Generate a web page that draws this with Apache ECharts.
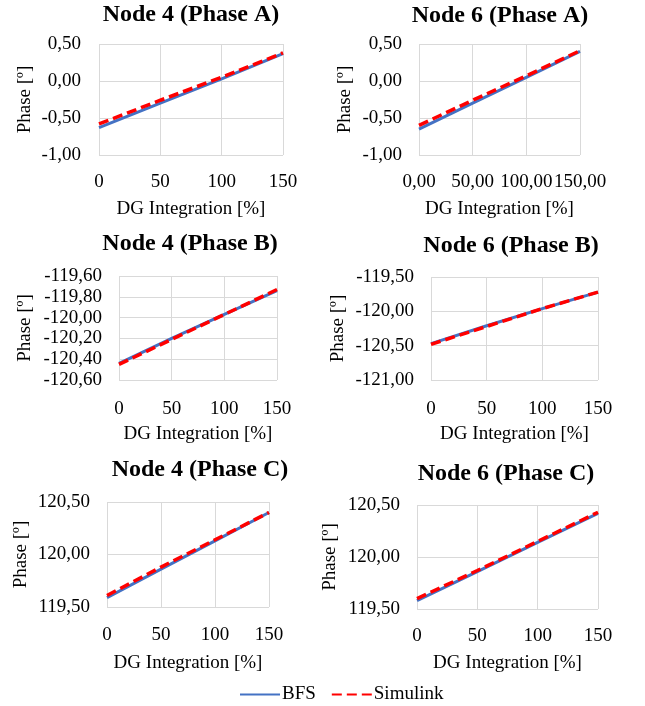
<!DOCTYPE html>
<html>
<head>
<meta charset="utf-8">
<script src="https://cdn.jsdelivr.net/npm/echarts@6/dist/echarts.min.js"></script>
<style>
html,body{margin:0;padding:0;background:#fff;}
#c{width:645px;height:706px;}
</style>
</head>
<body>
<div id="c"></div>
<script>
// DG integration [%]
var dgPct = [0, 50, 100, 150];

// Panel titles
var titles = ['Node 4 (Phase A)', 'Node 6 (Phase A)', 'Node 4 (Phase B)', 'Node 6 (Phase B)', 'Node 4 (Phase C)', 'Node 6 (Phase C)'];
var seriesNames = ['BFS', 'Simulink'];

// Phase [º] values
var n4A_bfs = [-0.63, -0.30, 0.03, 0.37];
var n4A_sim = [-0.58, -0.26, 0.05, 0.38];
var n6A_bfs = [-0.65, -0.30, 0.05, 0.40];
var n6A_sim = [-0.60, -0.26, 0.07, 0.41];
var n4B_bfs = [-120.44, -120.20, -119.97, -119.74];
var n4B_sim = [-120.45, -120.21, -119.97, -119.73];
var n6B_bfs = [-120.47, -120.21, -119.96, -119.72];
var n6B_sim = [-120.48, -120.22, -119.96, -119.72];
var n4C_bfs = [119.59, 119.86, 120.13, 120.40];
var n4C_sim = [119.61, 119.88, 120.14, 120.40];
var n6C_bfs = [119.58, 119.86, 120.14, 120.42];
var n6C_sim = [119.60, 119.87, 120.15, 120.43];

// Axis ranges (tick values)
var yMin = [-1.0, -1.0, -120.6, -121.0, 119.5, 119.5];
var yMax = [0.5, 0.5, -119.6, -119.5, 120.5, 120.5];
var yStep = [0.5, 0.5, 0.2, 0.5, 0.5, 0.5];
var xMin = 0, xMax = 150, xStep = 50;

var bfsData = [n4A_bfs, n6A_bfs, n4B_bfs, n6B_bfs, n4C_bfs, n6C_bfs];
var simData = [n4A_sim, n6A_sim, n4B_sim, n6B_sim, n4C_sim, n6C_sim];

// layout
var grids = [
  {left: 99, top: 44, width: 184, height: 111},
  {left: 419, top: 44, width: 161, height: 111},
  {left: 119, top: 276, width: 158, height: 104},
  {left: 431, top: 277, width: 167, height: 103},
  {left: 107, top: 502, width: 162, height: 105},
  {left: 417, top: 505, width: 181, height: 104}
];
var titlePos = [[191, 3], [500, 4], [190, 232], [511, 234], [200, 458], [506, 462]];
var yNameGap = [64, 64, 84, 83, 76, 77];
var yLabelMargin = [18, 17, 17, 17, 17, 17];
var xLabelMargin = [18, 18, 20, 20, 19, 18];
var xNameGap = [45, 45, 45, 45, 47, 45];

var FONT = 'Liberation Serif';
function fmt2(v){ return v.toFixed(2).replace('.', ','); }

var option = {
  backgroundColor: '#fff',
  animation: false,
  title: titles.map(function(t, i){
    return {text: t, left: titlePos[i][0], top: titlePos[i][1], textAlign: 'center', padding: 0,
      textStyle: {fontFamily: FONT, fontWeight: 'bold', fontSize: 24, color: '#000'}};
  }),
  legend: {
    data: seriesNames, left: 234, top: 680, itemWidth: 40, itemHeight: 14, itemGap: 15,
    itemStyle: {opacity: 0},
    textStyle: {fontFamily: FONT, fontSize: 19, color: '#000', padding: [0,0,0,-3]}
  },
  grid: grids.map(function(g){ return Object.assign({containLabel: false}, g); }),
  xAxis: grids.map(function(g, i){
    return {
      type: 'value', gridIndex: i, min: xMin, max: xMax, interval: xStep,
      name: 'DG Integration [%]', nameLocation: 'middle', nameGap: xNameGap[i],
      nameTextStyle: {fontFamily: FONT, fontSize: 19, color: '#000'},
      axisLine: {show: false}, axisTick: {show: false},
      axisLabel: {fontFamily: FONT, fontSize: 19, color: '#000', margin: xLabelMargin[i],
        formatter: i === 1 ? function(v){ return fmt2(v); } : function(v){ return String(v); }},
      splitLine: {show: true, lineStyle: {color: '#d9d9d9', width: 1}}
    };
  }),
  yAxis: grids.map(function(g, i){
    return {
      type: 'value', gridIndex: i, min: yMin[i], max: yMax[i], interval: yStep[i],
      name: 'Phase [º]', nameLocation: 'middle', nameGap: yNameGap[i],
      nameTextStyle: {fontFamily: FONT, fontSize: 19, color: '#000'},
      axisLine: {show: false}, axisTick: {show: false},
      axisLabel: {fontFamily: FONT, fontSize: 19, color: '#000', margin: yLabelMargin[i],
        formatter: function(v){ return fmt2(v); }},
      splitLine: {show: true, lineStyle: {color: '#d9d9d9', width: 1}}
    };
  }),
  series: []
};

for (var i = 0; i < 6; i++) {
  option.series.push({
    name: 'BFS', type: 'line', xAxisIndex: i, yAxisIndex: i, symbol: 'none',
    lineStyle: {color: '#4472C4', width: 3}, itemStyle: {color: '#4472C4'},
    data: dgPct.map(function(x, k){ return [x, bfsData[i][k]]; })
  });
}
for (var j = 0; j < 6; j++) {
  option.series.push({
    name: 'Simulink', type: 'line', xAxisIndex: j, yAxisIndex: j, symbol: 'none', z: 3,
    lineStyle: {color: '#FF0000', width: 3.5, type: [10, 5]}, itemStyle: {color: '#FF0000'},
    data: dgPct.map(function(x, k){ return [x, simData[j][k]]; })
  });
}

var chart = echarts.init(document.getElementById('c'), null, {renderer: 'canvas'});
chart.setOption(option);
</script>
</body>
</html>
